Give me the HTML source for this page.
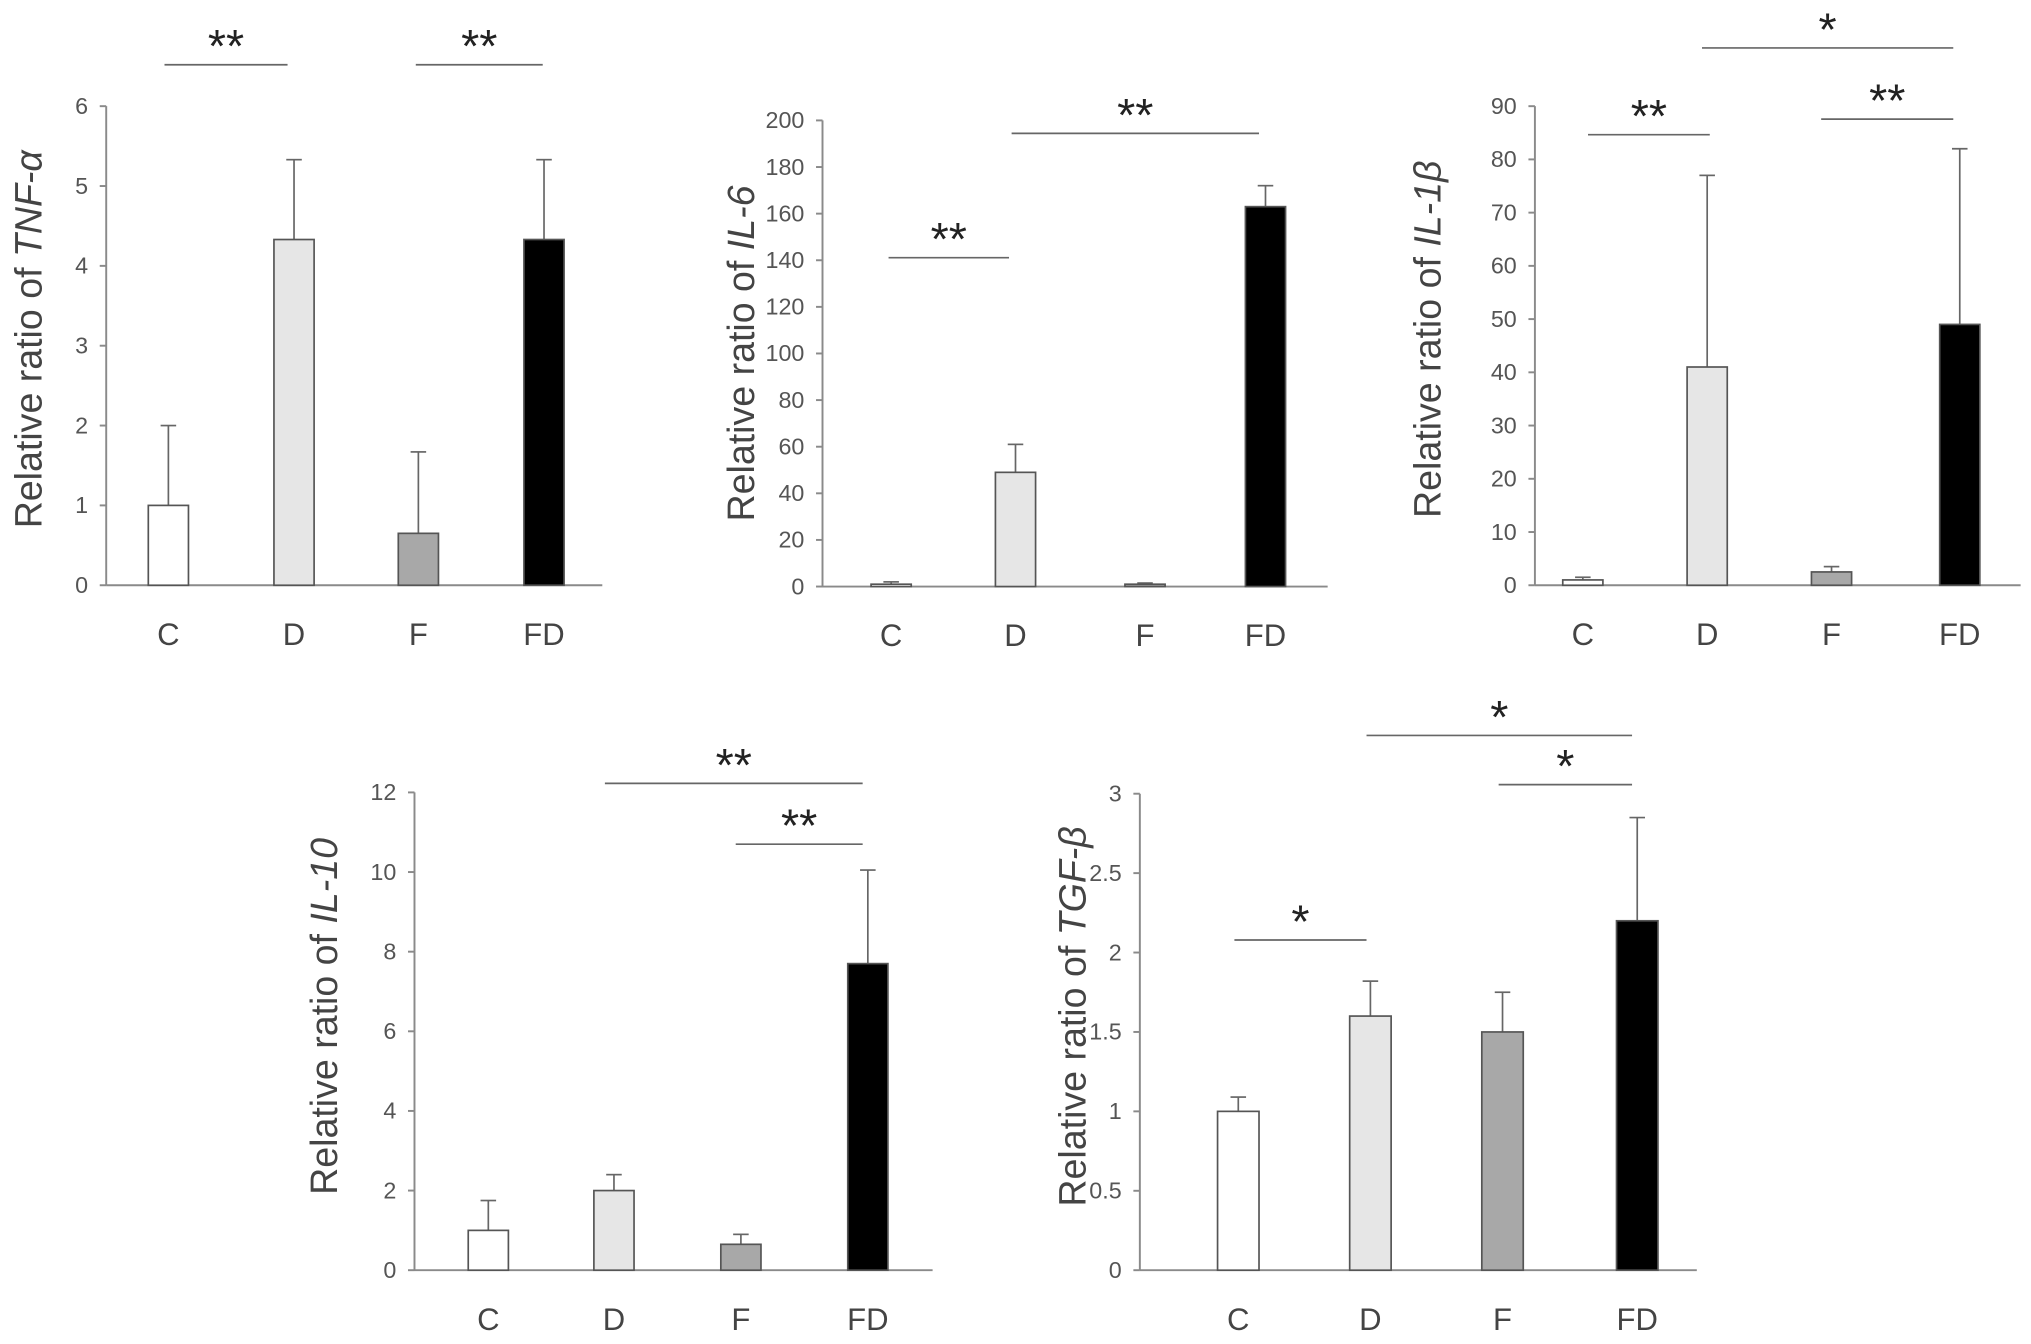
<!DOCTYPE html>
<html><head><meta charset="utf-8"><style>
html,body{margin:0;padding:0;background:#fff}
svg{display:block}
text{font-family:"Liberation Sans",sans-serif}
</style></head><body>
<svg id="chart" width="2031" height="1344" viewBox="0 0 1568 1038" preserveAspectRatio="none" xmlns="http://www.w3.org/2000/svg"></svg>
<script>
const categories = ["C","D","F","FD"];
const tnfValues = [1.0, 4.33, 0.65, 4.33];
const tnfErrors = [2.0, 5.33, 1.67, 5.33];
const il6Values = [1, 49, 1, 163];
const il6Errors = [2, 61, 1.5, 172];
const il1bValues = [1, 41, 2.5, 49];
const il1bErrors = [1.5, 77, 3.5, 82];
const il10Values = [1, 2.0, 0.65, 7.7];
const il10Errors = [1.75, 2.4, 0.9, 10.05];
const tgfValues = [1.0, 1.6, 1.5, 2.2];
const tgfErrors = [1.09, 1.82, 1.75, 2.85];
const tnfTicks = [0,1,2,3,4,5,6];
const il6Ticks = [0,20,40,60,80,100,120,140,160,180,200];
const il1bTicks = [0,10,20,30,40,50,60,70,80,90];
const il10Ticks = [0,2,4,6,8,10,12];
const tgfTicks = ["0","0.5","1","1.5","2","2.5","3"];
const fills = ["#ffffff","#e6e6e6","#a8a8a8","#000000"];

const panels = [
 {id:"tnf", gene:"TNF-α", vals:tnfValues, errs:tnfErrors, ticks:tnfTicks, max:6, ax:82, y0:452, yTop:82, axEnd:465, xs:[130,227,323,420], bw:31, labX:22, labY:262,
  sig:[[127,222,50,"**"],[321,419,50,"**"]]},
 {id:"il6", gene:"IL-6", vals:il6Values, errs:il6Errors, ticks:il6Ticks, max:200, ax:635, y0:453, yTop:93, axEnd:1025, xs:[688,784,884,977], bw:31, labX:572, labY:273,
  sig:[[686,779,199,"**"],[781,972,103,"**"]]},
 {id:"il1b", gene:"IL-1β", vals:il1bValues, errs:il1bErrors, ticks:il1bTicks, max:90, ax:1185, y0:452, yTop:82, axEnd:1560, xs:[1222,1318,1414,1513], bw:31, labX:1102, labY:262,
  sig:[[1226,1320,104,"**"],[1406,1508,92,"**"],[1314,1508,37,"*"]]},
 {id:"il10", gene:"IL-10", vals:il10Values, errs:il10Errors, ticks:il10Ticks, max:12, ax:320, y0:981, yTop:612, axEnd:720, xs:[377,474,572,670], bw:31, labX:250, labY:785,
  sig:[[467,666,605,"**"],[568,666,652,"**"]]},
 {id:"tgf", gene:"TGF-β", vals:tgfValues, errs:tgfErrors, ticks:tgfTicks, max:3, ax:880, y0:981, yTop:613, axEnd:1310, xs:[956,1058,1160,1264], bw:32, labX:828, labY:785,
  sig:[[953,1055,726,"*"],[1157,1260,606,"*"],[1055,1260,568,"*"]]}
];
const NS="http://www.w3.org/2000/svg";
const svg=document.getElementById("chart");
function mk(tag,attrs,parent){const e=document.createElementNS(NS,tag);for(const k in attrs)e.setAttribute(k,attrs[k]);(parent||svg).appendChild(e);return e;}
panels.forEach(p=>{
 const g=mk("g",{});
 
 
 const y=v=>p.y0-(v/p.max)*(p.y0-p.yTop);
 const ya=mk("line",{x1:p.ax,x2:p.ax,y1:p.y0,y2:p.yTop,stroke:"#8a8a8a","stroke-width":1.5},g);
 
 
 const xa=mk("line",{x1:p.ax,x2:p.axEnd,y1:p.y0,y2:p.y0,stroke:"#8a8a8a","stroke-width":1.5},g);
 
 
 p.ticks.forEach(t=>{
  const v=parseFloat(t);
  mk("line",{x1:p.ax-5,x2:p.ax,y1:y(v),y2:y(v),stroke:"#8a8a8a","stroke-width":1.5},g);
  const tx=mk("text",{x:p.ax-14,y:y(v)+6,"text-anchor":"end","font-size":18,fill:"#555"},g);
  tx.textContent=t;
  
  
 });
 categories.forEach((c,i)=>{
  const cx=p.xs[i];
  const yt=y(p.vals[i]), ye=y(p.errs[i]);
  const el=mk("line",{x1:cx,x2:cx,y1:yt,y2:ye,stroke:"#666","stroke-width":1.3},g);
  
  
  mk("line",{x1:cx-6,x2:cx+6,y1:ye,y2:ye,stroke:"#666","stroke-width":1.3},g);
  const r=mk("rect",{x:cx-p.bw/2,y:yt,width:p.bw,height:p.y0-yt,fill:fills[i],stroke:"#555","stroke-width":1.3},g);
  
  
  const lt=mk("text",{x:cx,y:p.y0+46,"text-anchor":"middle","font-size":24,fill:"#444"},g);
  lt.textContent=c;
  
  
 });
 const yl=mk("text",{x:p.labX,y:p.labY,"text-anchor":"middle","font-size":29,fill:"#444",transform:`rotate(-90 ${p.labX} ${p.labY})`,dy:10},g);
 yl.innerHTML='Relative ratio of <tspan font-style="italic">'+p.gene+'</tspan>';
 
 
 p.sig.forEach(s=>{
  const sl=mk("line",{x1:s[0],x2:s[1],y1:s[2],y2:s[2],stroke:"#666","stroke-width":1.3},g);
  
  
  const st=mk("text",{x:(s[0]+s[1])/2,y:s[2]-2,"text-anchor":"middle","font-size":36,fill:"#222"},g);
  st.textContent=s[3];
  
  
 });
});
</script>
</body></html>
